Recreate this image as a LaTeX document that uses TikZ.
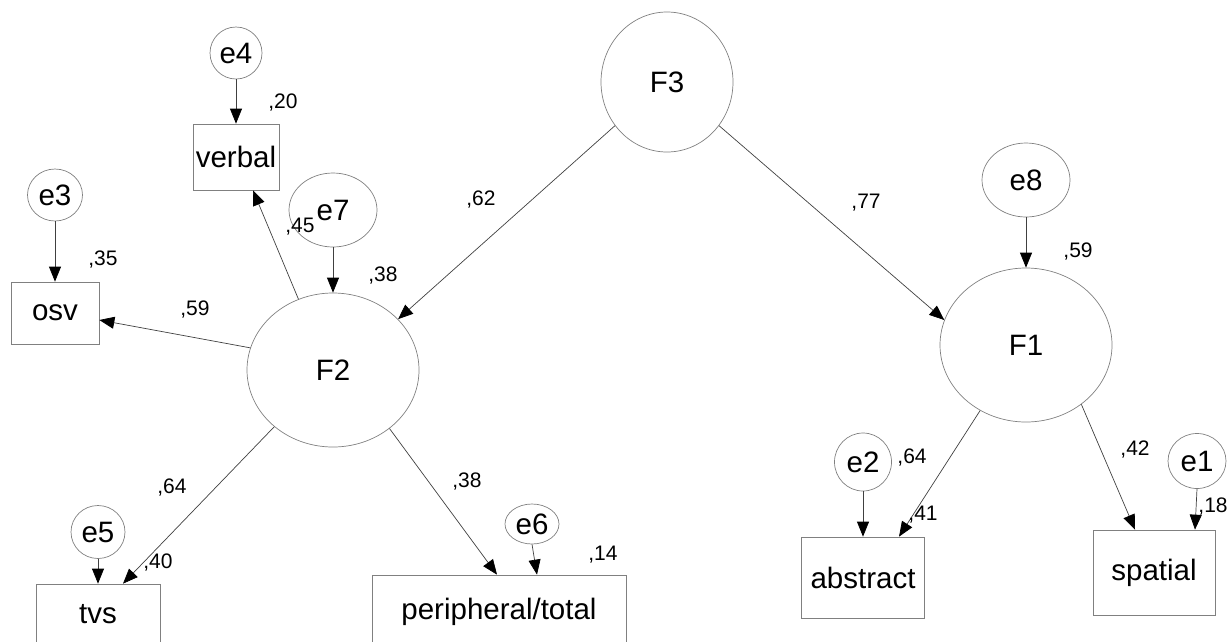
\documentclass[tikz,border=0pt]{standalone}
\usepackage{fontspec}
\setmainfont{Liberation Sans}
\usetikzlibrary{shapes.geometric,arrows.meta,calc}
\begin{document}
\begin{tikzpicture}[x=1pt,y=-1pt,
  lat/.style={ellipse,draw=black!50,line width=0.7pt,inner sep=0pt,font=\fontsize{29.5}{33}\selectfont},
  obs/.style={rectangle,draw=black!50,line width=0.7pt,inner sep=0pt,font=\fontsize{29.5}{33}\selectfont},
  conn/.style={draw=black!75,line width=0.7pt,-{Triangle[length=15pt,width=12pt,black]}},
  num/.style={font=\fontsize{21}{24}\selectfont,inner sep=0pt}]
\useasboundingbox (0,0) rectangle (1231,641);
\clip (0,0) rectangle (1231,641);
% latent variables
\node[lat,minimum width=132pt,minimum height=140pt] (F3) at (667,82) {F3};
\node[lat,minimum width=172pt,minimum height=154pt] (F2) at (333,370) {F2};
\node[lat,minimum width=172pt,minimum height=154pt] (F1) at (1026,345) {F1};
% errors
\node[lat,minimum width=52pt,minimum height=52pt] (e4) at (236,53) {e4};
\node[lat,minimum width=55pt,minimum height=52pt] (e3) at (55,195) {e3};
\node[lat,minimum width=88pt,minimum height=74pt] (e7) at (333,210) {e7};
\node[lat,minimum width=88pt,minimum height=74pt] (e8) at (1026,180) {e8};
\node[lat,minimum width=54pt,minimum height=53pt] (e5) at (98,532) {e5};
\node[lat,minimum width=54pt,minimum height=40pt] (e6) at (532,524) {e6};
\node[lat,minimum width=57pt,minimum height=58pt] (e2) at (863,462) {e2};
\node[lat,minimum width=58pt,minimum height=55pt] (e1) at (1197,461) {e1};
% observed
\node[obs,minimum width=86pt,minimum height=66pt] (verbal) at (236,157) {verbal};
\node[obs,minimum width=88pt,minimum height=62pt] (osv) at (55,313) {osv};
\node[obs,minimum width=124pt,minimum height=60pt] (tvs) at (98,614) {tvs};
\node[obs,minimum width=254pt,minimum height=74pt] (peri) at (499,612) {peripheral/total};
\node[obs,minimum width=123pt,minimum height=81pt] (abstract) at (863,577.5) {abstract};
\node[obs,minimum width=122pt,minimum height=85pt] (spatial) at (1154,572.5) {spatial};
% paths
\draw[conn] (F3.220) -- (F2.38);
\draw[conn] (F3.320) -- (F1.163);
\draw[conn] (F2.116) -- ($(verbal.south)+(17,0)$);
\draw[conn] (F2.165) -- ($(osv.east)+(0,7)$);
\draw[conn] (F2.224) -- ($(tvs.north)+(25,0)$);
\draw[conn] (F2.314) -- ($(peri.north)+(-2,0)$);
\draw[conn] (F1.235) -- ($(abstract.north)+(36,0)$);
\draw[conn] (F1.313) -- ($(spatial.north)+(-19,0)$);
\draw[conn] (e4) -- (verbal);
\draw[conn] (e3) -- (osv);
\draw[conn] (e7) -- (F2);
\draw[conn] (e8) -- (F1);
\draw[conn] (e5) -- (tvs);
\draw[conn] (e6.south) -- ($(peri.north)+(38,0)$);
\draw[conn] (e2) -- (abstract);
\draw[conn] (e1.south) -- ($(spatial.north)+(41,0)$);
% labels
\node[num] (l62) at (481,200) {,62};
\node[num] (l77) at (866,203) {,77};
\node[num] (l20) at (283,103) {,20};
\node[num] (l35) at (103,260) {,35};
\node[num] (l45) at (300,227) {,45};
\node[num] (l38a) at (383,276) {,38};
\node[num] (l59a) at (195,310) {,59};
\node[num] (l64a) at (172,487) {,64};
\node[num] (l40) at (158,562) {,40};
\node[num] (l38b) at (467,482) {,38};
\node[num] (l14) at (603,555) {,14};
\node[num] (l59b) at (1078,252) {,59};
\node[num] (l64b) at (912,457) {,64};
\node[num] (l41) at (923,515) {,41};
\node[num] (l42) at (1135,450) {,42};
\node[num] (l18) at (1213,507) {,18};
\end{tikzpicture}
\end{document}
